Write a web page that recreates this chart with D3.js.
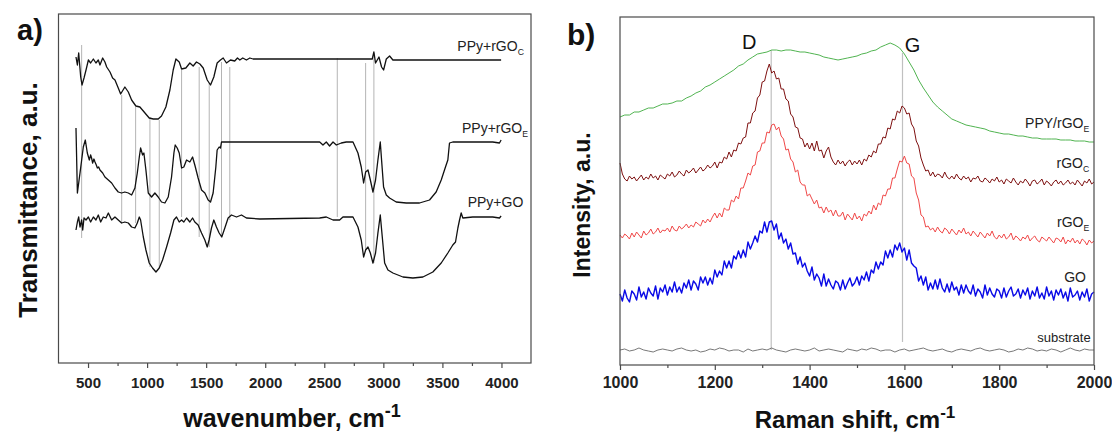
<!DOCTYPE html>
<html>
<head>
<meta charset="utf-8">
<script src="https://cdn.jsdelivr.net/npm/d3@7"></script>
<style>
  body { margin: 0; background: #fff; }
  svg { display: block; }
  text { font-family: "Liberation Sans", Arial, Helvetica, sans-serif; }
</style>
</head>
<body>
<svg id="chart" width="1112" height="434"></svg>
<script>
// ---------- Panel a) FTIR spectra: [wavenumber, transmittance (a.u., offset)] ----------
const ftirMajorTicks = [500, 1000, 1500, 2000, 2500, 3000, 3500, 4000];
const ftirMinorTicks = [750, 1250, 1750, 2250, 2750, 3250, 3750];

const ftirRgoC = [[398,306],[410,298],[421,310],[438,286],[449,278],[466,285],[483,293],[503,303],[522,300],[545,304],[567,300],[587,303],[601,298],[624,305],[643,301],[658,296],[686,291],[708,285],[728,283],[756,275],[776,269],[812,276],[841,271],[869,263],[905,257],[939,256],[982,250],[1018,245],[1052,244],[1094,244],[1122,247],[1159,256],[1193,273],[1221,293],[1244,304],[1272,301],[1292,294],[1328,295],[1362,300],[1390,297],[1418,301],[1447,299],[1475,295],[1509,283],[1537,278],[1565,286],[1593,300],[1621,303],[1644,305],[1672,300],[1706,303],[1742,302],[1765,305],[1785,303],[1810,305],[1841,303],[1870,305],[1897,304],[2236,304],[2799,304],[2906,304],[2920,311],[2934,300],[2963,306],[2985,296],[3002,293],[3025,304],[3053,307],[3081,303],[3997,303]];

const ftirRgoE = [[398,235],[410,170],[432,190],[446,203],[460,216],[477,223],[494,210],[511,203],[522,208],[530,205],[539,200],[550,204],[559,201],[570,198],[579,195],[590,196],[601,193],[624,190],[643,186],[672,183],[700,180],[728,175],[756,171],[784,170],[812,171],[841,170],[869,168],[897,175],[917,190],[934,206],[945,215],[962,208],[973,210],[990,193],[1010,170],[1038,166],[1066,170],[1094,166],[1122,161],[1151,160],[1179,166],[1207,186],[1227,210],[1238,218],[1255,215],[1272,210],[1292,195],[1311,196],[1334,203],[1362,201],[1385,206],[1404,198],[1432,185],[1461,173],[1489,170],[1517,163],[1537,161],[1559,170],[1582,196],[1593,213],[1610,216],[1621,215],[1630,221],[1672,221],[2461,221],[2489,218],[2517,221],[2545,217],[2574,221],[2602,218],[2644,220],[2686,221],[2743,221],[2785,210],[2813,196],[2833,180],[2850,191],[2870,193],[2890,183],[2912,171],[2934,183],[2954,203],[2974,221],[2985,203],[3002,176],[3025,168],[3053,165],[3109,161],[3194,160],[3306,160],[3391,163],[3447,171],[3490,183],[3526,196],[3546,203],[3560,220],[3588,221],[3926,221],[3983,220],[3997,223]];

const ftirGO = [[398,133],[410,141],[421,146],[432,136],[446,143],[455,133],[466,145],[483,143],[503,146],[522,141],[545,146],[567,143],[587,148],[607,141],[629,146],[652,145],[672,150],[700,143],[728,146],[756,143],[784,140],[812,141],[841,140],[869,136],[897,135],[917,140],[934,146],[945,143],[968,126],[990,113],[1018,100],[1046,95],[1075,91],[1103,95],[1131,103],[1165,116],[1199,130],[1227,143],[1249,146],[1272,141],[1292,143],[1311,141],[1334,145],[1362,141],[1385,145],[1404,141],[1432,138],[1461,130],[1489,123],[1509,116],[1525,123],[1545,135],[1565,143],[1587,136],[1610,130],[1632,126],[1658,135],[1686,145],[1714,148],[1757,146],[1799,148],[1841,145],[1954,144],[2461,145],[2517,146],[2574,143],[2630,143],[2658,146],[2743,146],[2785,136],[2813,123],[2833,106],[2850,113],[2870,116],[2890,110],[2912,100],[2934,110],[2954,130],[2974,148],[2991,126],[3011,100],[3039,93],[3081,90],[3166,86],[3250,85],[3335,86],[3419,91],[3490,100],[3546,110],[3588,118],[3611,121],[3631,135],[3645,143],[3659,150],[3673,145],[3757,146],[3926,146],[3983,145],[3997,147]];

// band markers: [wavenumber, lower a.u., upper a.u.]
const ftirBands = [[446,125,318],[785,140,268],[903,140,256],[1024,96,246],[1103,95,243],[1292,146,293],[1441,126,296],[1526,116,280],[1630,126,301],[1700,143,296],[2610,146,305],[2850,113,300],[2920,100,310]];

// ---------- Panel b) Raman spectra (1000–2000 cm-1, evenly sampled) ----------
const ramanMajorTicks = [1000, 1200, 1400, 1600, 1800, 2000];
const ramanMinorTicks = [1100, 1300, 1500, 1700, 1900];

const ramanPPyRgoE = [248,250,250,253,253,255,257,257,259,261, 261,262,264,264,267,269,272,274,278,280, 283,286,289,292,295,299,301,305,308,311, 312,313,315,315,314,315,315,314,313,313, 312,311,310,308,307,306,305,306,307,308, 309,311,312,314,315,318,320,322,320,317, 311,303,295,285,277,270,263,258,254,250, 246,244,242,240,239,238,237,236,234,233, 232,231,231,230,229,229,228,227,227,226, 226,226,226,225,225,225,224,224,224,223, 223];

const ramanRgoC = [202,191,186,184,189,186,188,184,187,190, 185,188,186,191,187,189,185,190,188,186, 191,189,193,188,190,194,191,189,195,192, 194,197,192,195,198,194,196,200,197,199, 203,197,203,202,208,206,213,208,215,214, 222,221,227,228,242,242,252,254,267,270, 283,284,294,301,292,294,286,287,276,276, 266,264,251,248,238,237,227,226,218,222, 216,222,214,224,214,215,207,214,218,208, 203,200,205,201,204,199,203,205,200,204, 201,205,200,206,204,210,208,214,212,221, 221,228,227,237,236,246,245,254,252,259, 257,251,252,241,237,224,219,207,200,194, 195,189,193,188,191,190,187,193,188,186, 189,186,191,187,185,189,186,188,183,187, 186,189,184,183,187,185,182,186,184,188, 183,185,181,186,184,182,187,183,180,184, 182,186,183,179,184,185,181,183,186,180, 184,182,179,183,185,181,184,180,182,185, 181,183,180,185,182,179,184,182,186,181, 183];

const ramanRgoE = [130,127,131,129,126,132,128,133,130,127, 134,130,132,136,131,133,137,132,135,134, 137,133,139,135,134,139,136,138,141,137, 140,138,143,141,139,145,142,146,143,148, 152,147,152,148,157,155,155,165,163,169, 166,177,177,184,192,190,199,200,213,214, 222,222,233,232,240,241,235,238,229,226, 215,216,206,203,193,195,183,180,180,169, 171,166,161,165,157,158,152,158,153,155, 149,155,149,149,153,145,151,148,145,152, 146,149,144,151,149,154,151,160,155,162, 160,170,169,176,176,187,187,196,204,203, 209,202,201,189,187,172,165,150,148,138, 139,135,137,133,138,134,132,137,135,131, 136,133,130,135,132,137,131,133,129,134, 131,128,133,130,127,132,129,134,128,126, 130,127,131,126,128,132,125,129,127,124, 128,126,130,124,127,129,125,123,128,126, 124,128,125,122,127,126,123,128,121,125, 123,127,122,125,121,126,124,120,125,122, 124];

const ramanGO = [71,64,75,67,63,74,71,65,78,68, 73,66,77,72,69,79,66,77,73,80, 70,78,73,83,73,78,72,82,77,85, 75,84,81,75,88,82,88,80,87,81, 95,88,94,90,104,97,104,97,109,106, 114,107,115,108,123,116,122,129,123,134, 132,143,133,143,144,135,141,126,132,122, 126,116,122,111,112,101,108,98,102,94, 89,98,85,91,87,79,91,79,86,80, 76,84,82,75,85,76,82,87,79,82, 88,80,89,85,93,84,95,92,103,96, 103,100,114,107,115,108,120,115,122,113, 117,105,115,102,99,97,84,89,80,88, 75,82,76,85,76,86,77,73,81,73, 83,75,78,70,80,72,80,74,71,80, 69,76,73,67,80,70,77,71,68,76, 74,67,77,68,74,78,69,71,76,67, 75,70,77,66,74,69,78,67,72,66, 78,69,74,65,75,70,76,67,73,64, 77,68,70,74,65,73,68,76,64,71, 73];

const ramanSubstrate = [15,16,14,15,17,15,14,13,15,16, 15,14,16,17,15,14,15,13,14,16, 15,17,16,14,15,15,13,16,14,15, 16,15,17,15,14,13,15,16,15,14, 15,17,14,15,16,15,14,13,16,15, 14,16,15,17,16,14,15,15,13,15, 16,14,15,16,17,15,14,15,16,14, 13,15,16,15,14,16,17,15,14,15, 16,15,13,14,16,15,17,16,14,15, 14,16,15,13,15,17,15,14,16,15, 15];

// band markers: [Raman shift, lower, upper, label]
const ramanBands = [[1319, 15, 315, "D"], [1596, 23, 312, "G"]];

// ---------- drawing ----------
const svg = d3.select("#chart");
const frameColor = "#4a4a4a";

function spectrumPoints(values, from, to) {
  const step = (to - from) / (values.length - 1);
  return values.map((v, i) => [from + i * step, v]);
}

function drawFrame(g, x, y, major, minor, fontSize, pad) {
  const [x0, x1] = x.range();
  const [y0, y1] = y.range();
  g.append("rect")
    .attr("x", x0).attr("y", y1)
    .attr("width", x1 - x0).attr("height", y0 - y1)
    .attr("fill", "none").attr("stroke", frameColor).attr("stroke-width", 1.2);
  const ax = g.append("g").attr("transform", `translate(0,${y0})`)
    .call(d3.axisBottom(x).tickValues(major).tickSize(5).tickPadding(pad).tickFormat(d3.format("d")));
  ax.select(".domain").remove();
  ax.selectAll("line").attr("stroke", frameColor).attr("stroke-width", 1.2);
  ax.selectAll("text").attr("font-size", fontSize).attr("font-weight", "bold")
    .attr("fill", "#222").style("font-family", '"Liberation Sans", Arial, sans-serif');
  const mx = g.append("g").attr("transform", `translate(0,${y0})`)
    .call(d3.axisBottom(x).tickValues(minor).tickSize(3).tickFormat(""));
  mx.select(".domain").remove();
  mx.selectAll("line").attr("stroke", frameColor).attr("stroke-width", 1.2);
}

function label(g, xp, yp, main, sub, size) {
  const t = g.append("text").attr("x", xp).attr("y", yp)
    .attr("text-anchor", "end").attr("font-size", size).attr("fill", "#222");
  t.append("tspan").text(main);
  if (sub) t.append("tspan").attr("dy", 4).attr("font-size", size * 0.62).text(sub);
}

// ----- panel a -----
const xA = d3.scaleLinear().domain([250, 4250]).range([58.5, 531]);
const yA = d3.scaleLinear().domain([0, 349]).range([363, 14]);
const gA = svg.append("g");

gA.selectAll("line.band").data(ftirBands).join("line").attr("class", "band")
  .attr("x1", d => xA(d[0])).attr("x2", d => xA(d[0]))
  .attr("y1", d => yA(d[1])).attr("y2", d => yA(d[2]))
  .attr("stroke", "#b4b4b4").attr("stroke-width", 1);

const lineA = d3.line().x(d => xA(d[0])).y(d => yA(d[1]));
[ftirRgoC, ftirRgoE, ftirGO].forEach(s => {
  gA.append("path").attr("d", lineA(s)).attr("fill", "none")
    .attr("stroke", "#111").attr("stroke-width", 1.3).attr("stroke-linejoin", "round");
});

drawFrame(gA, xA, yA, ftirMajorTicks, ftirMinorTicks, 15, 9);

label(gA, xA(4190), yA(312), "PPy+rGO", "C", 14);
label(gA, xA(4225), yA(230), "PPy+rGO", "E", 14);
label(gA, xA(4185), yA(156), "PPy+GO", null, 14);

gA.append("text").attr("x", 292).attr("y", 427).attr("text-anchor", "middle")
  .attr("font-size", 25).attr("font-weight", "bold").attr("fill", "#111")
  .call(t => {
    t.append("tspan").text("wavenumber, cm");
    t.append("tspan").attr("dy", -10).attr("font-size", 18).text("-1");
  });
gA.append("text").attr("transform", "translate(37,200) rotate(-90)")
  .attr("text-anchor", "middle").attr("font-size", 26).attr("font-weight", "bold")
  .attr("fill", "#111").text("Transmittance, a.u.");
gA.append("text").attr("x", 17).attr("y", 40).attr("font-size", 29)
  .attr("font-weight", "bold").attr("fill", "#111").text("a)");

// ----- panel b -----
const xB = d3.scaleLinear().domain([1000, 2000]).range([620, 1094]);
const yB = d3.scaleLinear().domain([0, 348]).range([365, 17]);
const gB = svg.append("g");

gB.selectAll("line.band").data(ramanBands).join("line").attr("class", "band")
  .attr("x1", d => xB(d[0])).attr("x2", d => xB(d[0]))
  .attr("y1", d => yB(d[1])).attr("y2", d => yB(d[2]))
  .attr("stroke", "#c0c0c0").attr("stroke-width", 1.2);

const lineB = d3.line().x(d => xB(d[0])).y(d => yB(d[1]));
const ramanSeries = [
  { values: ramanSubstrate, color: "#555555", width: 0.8 },
  { values: ramanGO, color: "#0a0ae6", width: 1.4 },
  { values: ramanRgoE, color: "#f04848", width: 1 },
  { values: ramanRgoC, color: "#7e1010", width: 1 },
  { values: ramanPPyRgoE, color: "#3caa3c", width: 0.9 }
];
ramanSeries.forEach(s => {
  gB.append("path").attr("d", lineB(spectrumPoints(s.values, 1000, 2000)))
    .attr("fill", "none").attr("stroke", s.color).attr("stroke-width", s.width)
    .attr("stroke-linejoin", "round");
});

gB.selectAll("text.band").data(ramanBands).join("text").attr("class", "band")
  .attr("x", d => xB(d[0]) + (d[3] === "D" ? -22 : 10))
  .attr("y", d => yB(d[2] + 1))
  .attr("text-anchor", "middle").attr("font-size", 20).attr("fill", "#111")
  .text(d => d[3]);

drawFrame(gB, xB, yB, ramanMajorTicks, ramanMinorTicks, 16, 7);

label(gB, xB(1990), yB(237), "PPY/rGO", "E", 14);
label(gB, xB(1990), yB(197), "rGO", "C", 14);
label(gB, xB(1990), yB(138), "rGO", "E", 14);
label(gB, xB(1983), yB(83), "GO", null, 14);
label(gB, xB(1993), yB(23), "substrate", null, 13);

gB.append("text").attr("x", 855).attr("y", 428).attr("text-anchor", "middle")
  .attr("font-size", 24).attr("font-weight", "bold").attr("fill", "#111")
  .call(t => {
    t.append("tspan").text("Raman shift, cm");
    t.append("tspan").attr("dy", -10).attr("font-size", 17).text("-1");
  });
gB.append("text").attr("transform", "translate(590,205) rotate(-90)")
  .attr("text-anchor", "middle").attr("font-size", 23).attr("font-weight", "bold")
  .attr("fill", "#111").text("Intensity, a.u.");
gB.append("text").attr("x", 567).attr("y", 45).attr("font-size", 30)
  .attr("font-weight", "bold").attr("fill", "#111").text("b)");
</script>
</body>
</html>
